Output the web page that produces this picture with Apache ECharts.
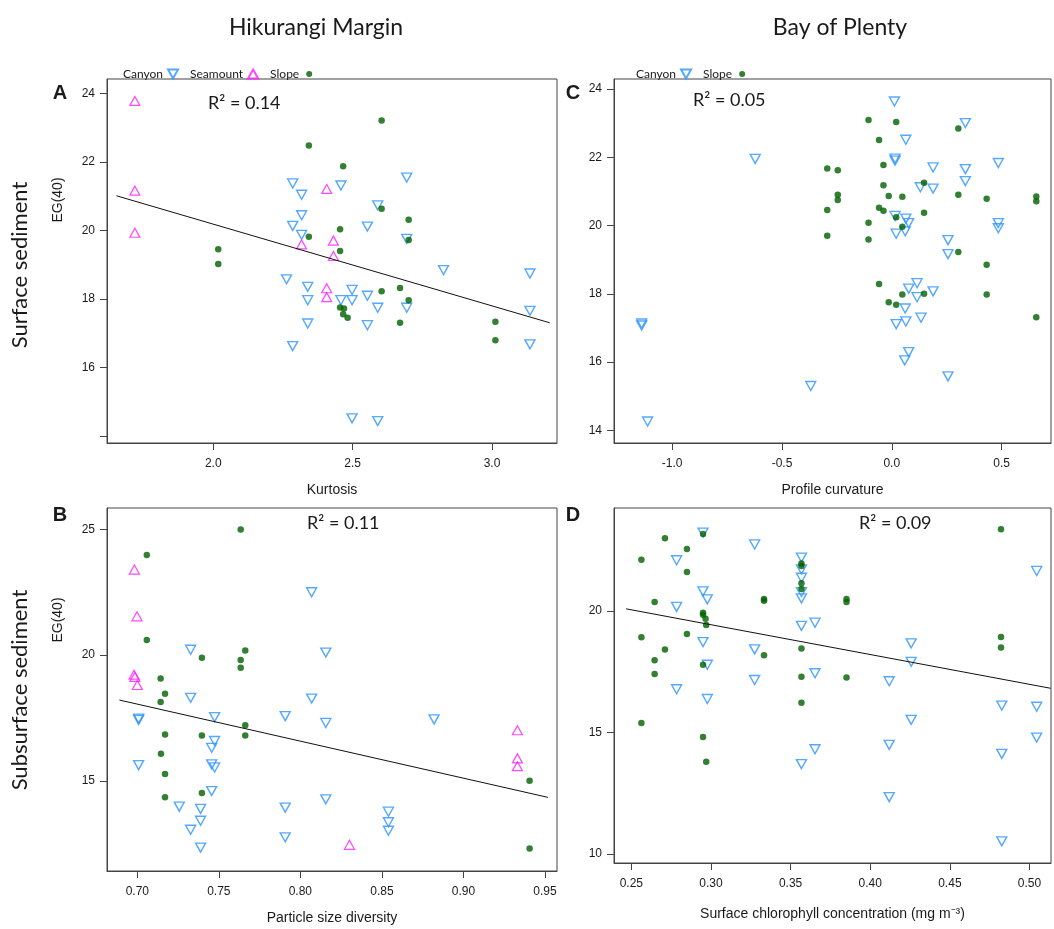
<!DOCTYPE html>
<html>
<head>
<meta charset="utf-8">
<script src="https://cdn.jsdelivr.net/npm/echarts@6/dist/echarts.min.js"></script>
<style>
  html, body { margin: 0; padding: 0; background: #fff; }
  #chart { width: 1054px; height: 929px; }
</style>
</head>
<body>
<div id="chart"></div>
<script>
// ---- Panel A: Hikurangi Margin, surface sediment vs kurtosis ----
const aCanyon = [[2.285,21.37],[2.317,21.04],[2.317,20.44],[2.285,20.13],[2.317,19.87],[2.263,18.57],[2.339,18.35],[2.339,17.96],[2.339,17.28],[2.285,16.62],
  [2.458,21.31],[2.694,21.54],[2.590,20.73],[2.553,20.11],[2.694,19.75],[2.826,18.84],[3.136,18.74],[2.498,18.26],[2.458,17.96],[2.498,17.96],
  [2.553,18.09],[2.590,17.74],[2.694,17.74],[2.553,17.23],[3.136,17.65],[3.136,16.67],[2.498,14.51],[2.590,14.43]];
const aSeamount = [[1.719,23.78],[1.719,21.16],[1.719,19.93],[2.317,19.59],[2.407,21.21],[2.431,19.70],[2.431,19.25],[2.407,18.31],[2.407,18.05]];
const aSlope = [[2.343,22.48],[2.343,19.81],[2.018,19.45],[2.018,19.02],[2.604,23.21],[2.466,21.87],[2.604,20.63],[2.701,20.31],[2.455,20.03],
  [2.701,19.72],[2.455,19.40],[2.604,18.22],[2.670,18.32],[2.701,17.96],[2.455,17.75],[2.469,17.72],[2.466,17.55],[2.482,17.45],[2.670,17.30],
  [3.012,17.33],[3.012,16.79]];
const aFit = [[1.653,21.01],[3.207,17.30]];

// ---- Panel B: Hikurangi Margin, subsurface sediment vs particle size diversity ----
const bCanyon = [[0.8069,22.50],[0.7327,20.21],[0.8156,20.10],[0.7327,18.30],[0.8069,18.27],[0.7008,17.47],[0.7008,17.42],[0.7474,17.53],
  [0.7907,17.57],[0.8156,17.30],[0.7474,16.58],[0.7456,16.31],[0.7008,15.62],[0.7456,15.65],[0.7474,15.53],[0.7456,14.59],[0.8156,14.26],
  [0.7257,13.97],[0.7388,13.88],[0.7907,13.93],[0.7388,13.41],[0.7327,13.05],[0.7388,12.34],[0.7907,12.75],[0.882,17.44],[0.854,13.77],
  [0.854,13.35],[0.854,13.01]];
const bSeamount = [[0.6982,23.40],[0.6998,21.54],[0.698,19.22],[0.6985,19.13],[0.700,18.81],[0.9331,17.01],[0.9331,15.89],[0.9331,15.58],[0.8301,12.45]];
const bSlope = [[0.7634,24.99],[0.7058,23.98],[0.7058,20.60],[0.7396,19.89],[0.7662,20.18],[0.7634,19.80],[0.7634,19.50],[0.7143,19.07],
  [0.717,18.46],[0.7143,18.13],[0.7662,17.21],[0.7662,16.80],[0.717,16.84],[0.7396,16.80],[0.7145,16.07],[0.717,15.27],[0.717,14.34],
  [0.7396,14.51],[0.9406,15.00],[0.9406,12.31]];
const bFit = [[0.689,18.21],[0.9518,14.34]];

// ---- Panel C: Bay of Plenty, surface sediment vs profile curvature ----
const cCanyon = [[-1.139,17.13],[-1.139,17.07],[-1.112,14.26],[-0.622,21.95],[-0.369,15.30],[0.012,23.63],[0.064,22.51],[0.015,21.96],
  [0.015,21.90],[0.335,23.00],[0.188,21.70],[0.335,21.65],[0.485,21.83],[0.335,21.30],[0.130,21.12],[0.188,21.08],[0.015,20.28],
  [0.064,20.20],[0.077,20.07],[0.485,20.07],[0.485,19.92],[0.061,19.83],[0.020,19.76],[0.256,19.57],[0.256,19.16],[0.115,18.31],
  [0.077,18.15],[0.115,17.90],[0.188,18.07],[0.061,17.57],[0.020,17.11],[0.064,17.19],[0.133,17.30],[0.077,16.29],[0.059,16.05],[0.256,15.58]];
const cSlope = [[-0.106,23.09],[0.020,23.03],[0.303,22.84],[-0.058,22.50],[-0.294,21.67],[-0.246,21.62],[-0.038,21.77],[0.147,21.25],
  [-0.038,21.18],[-0.246,20.90],[-0.246,20.75],[-0.014,20.86],[0.048,20.84],[0.303,20.90],[0.432,20.78],[0.658,20.85],[0.658,20.71],
  [-0.294,20.45],[-0.058,20.52],[-0.038,20.43],[0.147,20.37],[0.020,20.24],[-0.106,20.08],[0.048,19.96],[-0.294,19.70],[-0.106,19.59],
  [0.303,19.22],[0.432,18.85],[-0.058,18.29],[0.048,17.98],[0.147,18.00],[0.432,17.98],[-0.014,17.75],[0.020,17.68],[0.658,17.31]];

// ---- Panel D: Bay of Plenty, subsurface sediment vs surface chlorophyll ----
const dCanyon = [[0.295,23.22],[0.2784,22.08],[0.3274,22.73],[0.295,20.80],[0.2977,20.47],[0.2784,20.16],[0.295,18.71],[0.2977,17.78],
  [0.2784,16.77],[0.2977,16.37],[0.3274,18.41],[0.3274,17.15],[0.3568,22.19],[0.3568,21.70],[0.3568,21.36],[0.3568,20.77],[0.3568,20.51],
  [0.3568,19.38],[0.3653,19.51],[0.3653,17.43],[0.3653,14.30],[0.3568,13.69],[0.4257,18.66],[0.4257,17.90],[0.4119,17.10],[0.4257,15.51],
  [0.4119,14.48],[0.4119,12.33],[0.5045,21.64],[0.4826,16.10],[0.5045,16.05],[0.5045,14.78],[0.4826,14.11],[0.4826,10.51]];
const dSlope = [[0.2563,22.10],[0.2711,22.99],[0.2849,22.54],[0.2849,21.60],[0.295,23.16],[0.2646,20.36],[0.2563,18.91],[0.2711,18.41],
  [0.2646,17.96],[0.2646,17.40],[0.2849,19.04],[0.295,19.92],[0.295,19.84],[0.2966,19.67],[0.297,19.42],[0.295,17.78],[0.2563,15.38],
  [0.295,14.81],[0.297,13.79],[0.3333,20.49],[0.3333,20.41],[0.3333,18.17],[0.3568,21.95],[0.3568,21.84],[0.3568,21.13],[0.3568,20.90],
  [0.3568,18.45],[0.3568,17.29],[0.3568,16.22],[0.3851,20.49],[0.3851,20.36],[0.3851,17.25],[0.4821,23.36],[0.4821,18.92],[0.4821,18.49]];
const dFit = [[0.2467,20.08],[0.5133,16.81]];

// ---- Tick positions ----
const aXTicks = [2.0, 2.5, 3.0];
const aYTicks = [14, 16, 18, 20, 22, 24];
const bXTicks = [0.70, 0.75, 0.80, 0.85, 0.90, 0.95];
const bYTicks = [15, 20, 25];
const cXTicks = [-1.0, -0.5, 0.0, 0.5];
const cYTicks = [14, 16, 18, 20, 22, 24];
const dXTicks = [0.25, 0.30, 0.35, 0.40, 0.45, 0.50];
const dYTicks = [10, 15, 20];

const r2Labels = ['0.14', '0.11', '0.05', '0.09'];

const ARIAL = '"Liberation Sans", Arial, sans-serif';
const SOFT = 'Lato, "Open Sans", sans-serif';
const AXIS_COLOR = '#444';
const TEXT_COLOR = '#1a1a1a';

const BLUE = '#2a93ff';
const PINK = '#ff1aff';
const GREEN = '#006000';

// Legend icons: a downward triangle, and a small dot padded inside an empty box
const ICON_DOWN = 'path://M0,0L10,0L5,9Z';
const ICON_DOT = 'path://M0,0L0.001,0ZM10,9L10.001,9ZM5,1.5A3,3,0,1,1,4.999,1.5Z';

function xAxis(grid, min, max, ticks, digits, name, gap) {
  return {
    type: 'value', gridIndex: grid, min: min, max: max,
    name: name, nameLocation: 'middle', nameGap: gap,
    nameTextStyle: { fontFamily: ARIAL, fontSize: 14, color: TEXT_COLOR },
    axisLine: { show: true, onZero: false, lineStyle: { color: AXIS_COLOR, width: 1 } },
    axisTick: { show: true, customValues: ticks, length: 7, lineStyle: { color: AXIS_COLOR } },
    axisLabel: { customValues: ticks, margin: 15, fontFamily: ARIAL, fontSize: 12, color: TEXT_COLOR,
      formatter: v => Number(v).toFixed(digits) },
    splitLine: { show: false }
  };
}
function yAxis(grid, min, max, ticks, hidden) {
  return {
    type: 'value', gridIndex: grid, min: min, max: max,
    axisLine: { show: true, onZero: false, lineStyle: { color: AXIS_COLOR, width: 1 } },
    axisTick: { show: true, customValues: ticks, length: 7, lineStyle: { color: AXIS_COLOR } },
    axisLabel: { customValues: ticks, margin: 12, fontFamily: ARIAL, fontSize: 12, color: TEXT_COLOR,
      formatter: v => (hidden.indexOf(v) >= 0 ? '' : String(v)) },
    splitLine: { show: false }
  };
}

function canyon(name, idx, data) {
  return { name: name, type: 'scatter', xAxisIndex: idx, yAxisIndex: idx, data: data,
    symbol: 'triangle', symbolRotate: 180, symbolSize: [10, 9],
    itemStyle: { color: 'rgba(0,0,0,0)', borderColor: BLUE, borderWidth: 1.4 }, z: 3 };
}
function seamount(name, idx, data) {
  return { name: name, type: 'scatter', xAxisIndex: idx, yAxisIndex: idx, data: data,
    symbol: 'triangle', symbolSize: [10, 9],
    itemStyle: { color: 'rgba(0,0,0,0)', borderColor: PINK, borderWidth: 1.2 }, z: 3 };
}
function slope(name, idx, data) {
  return { name: name, type: 'scatter', xAxisIndex: idx, yAxisIndex: idx, data: data,
    symbol: 'circle', symbolSize: 6.5, itemStyle: { color: GREEN }, z: 3 };
}
function fit(idx, data) {
  return { type: 'line', xAxisIndex: idx, yAxisIndex: idx, data: data, symbol: 'none',
    lineStyle: { color: '#111', width: 1 }, silent: true, z: 4 };
}

function r2Text(x, y, val) {
  return { type: 'text', x: x, y: y,
    style: { text: 'R² = ' + val, fontFamily: SOFT, fontSize: 18, fill: TEXT_COLOR, verticalAlign: 'middle' } };
}
function plainText(x, y, text, font, size, weight, rot) {
  return { type: 'text', x: x, y: y, rotation: rot || 0,
    style: { text: text, fontFamily: font, fontSize: size, fontWeight: weight || 'normal', fill: TEXT_COLOR,
      align: 'center', verticalAlign: 'middle' } };
}

const legendBase = {
  align: 'right', orient: 'horizontal', itemWidth: 10, itemHeight: 9, itemGap: 11,
  selectedMode: false, textStyle: { fontFamily: SOFT, fontSize: 12, color: TEXT_COLOR }
};

const chart = echarts.init(document.getElementById('chart'), null, { renderer: 'canvas' });
chart.setOption({
  animation: false,
  backgroundColor: '#fff',
  grid: [
    { left: 107, top: 79, width: 450, height: 364, show: true, borderColor: AXIS_COLOR, borderWidth: 1 },
    { left: 107, top: 508, width: 450, height: 363, show: true, borderColor: AXIS_COLOR, borderWidth: 1 },
    { left: 614, top: 79, width: 437, height: 364, show: true, borderColor: AXIS_COLOR, borderWidth: 1 },
    { left: 614, top: 508, width: 437, height: 355, show: true, borderColor: AXIS_COLOR, borderWidth: 1 }
  ],
  xAxis: [
    xAxis(0, 1.619, 3.233, aXTicks, 1, 'Kurtosis', 40),
    xAxis(1, 0.6814, 0.9574, bXTicks, 2, 'Particle size diversity', 40),
    xAxis(2, -1.265, 0.725, cXTicks, 1, 'Profile curvature', 40),
    xAxis(3, 0.2391, 0.5135, dXTicks, 2, 'Surface chlorophyll concentration (mg m⁻³)', 44)
  ],
  yAxis: [
    yAxis(0, 13.79, 24.42, aYTicks, [14]),
    yAxis(1, 11.41, 25.85, bYTicks, []),
    yAxis(2, 13.63, 24.29, cYTicks, []),
    yAxis(3, 9.62, 24.23, dYTicks, [])
  ],
  legend: [
    Object.assign({}, legendBase, { left: 118, top: 63,
      data: [{ name: 'Canyon', icon: ICON_DOWN }, { name: 'Seamount' }, { name: 'Slope', icon: ICON_DOT }] }),
    Object.assign({}, legendBase, { left: 631, top: 63,
      data: [{ name: 'Canyon', icon: ICON_DOWN }, { name: 'Slope', icon: ICON_DOT }] })
  ],
  series: [
    canyon('Canyon', 0, aCanyon), seamount('Seamount', 0, aSeamount), slope('Slope', 0, aSlope), fit(0, aFit),
    canyon('Canyon', 1, bCanyon), seamount('Seamount', 1, bSeamount), slope('Slope', 1, bSlope), fit(1, bFit),
    canyon('Canyon', 2, cCanyon), slope('Slope', 2, cSlope),
    canyon('Canyon', 3, dCanyon), slope('Slope', 3, dSlope), fit(3, dFit)
  ],
  graphic: [
    plainText(316, 28, 'Hikurangi Margin', SOFT, 23),
    plainText(840, 28, 'Bay of Plenty', SOFT, 23),
    plainText(20, 265, 'Surface sediment', SOFT, 22, 'normal', Math.PI / 2),
    plainText(20, 690, 'Subsurface sediment', SOFT, 22, 'normal', Math.PI / 2),
    plainText(58, 200, 'EG(40)', ARIAL, 14, 'normal', Math.PI / 2),
    plainText(58, 620, 'EG(40)', ARIAL, 14, 'normal', Math.PI / 2),
    plainText(60, 93, 'A', ARIAL, 20, 'bold'),
    plainText(60, 515, 'B', ARIAL, 20, 'bold'),
    plainText(573, 93, 'C', ARIAL, 20, 'bold'),
    plainText(573, 515, 'D', ARIAL, 20, 'bold'),
    r2Text(208, 103, r2Labels[0]),
    r2Text(307, 523, r2Labels[1]),
    r2Text(693, 100, r2Labels[2]),
    r2Text(859, 523, r2Labels[3])
  ]
});
</script>
</body>
</html>
